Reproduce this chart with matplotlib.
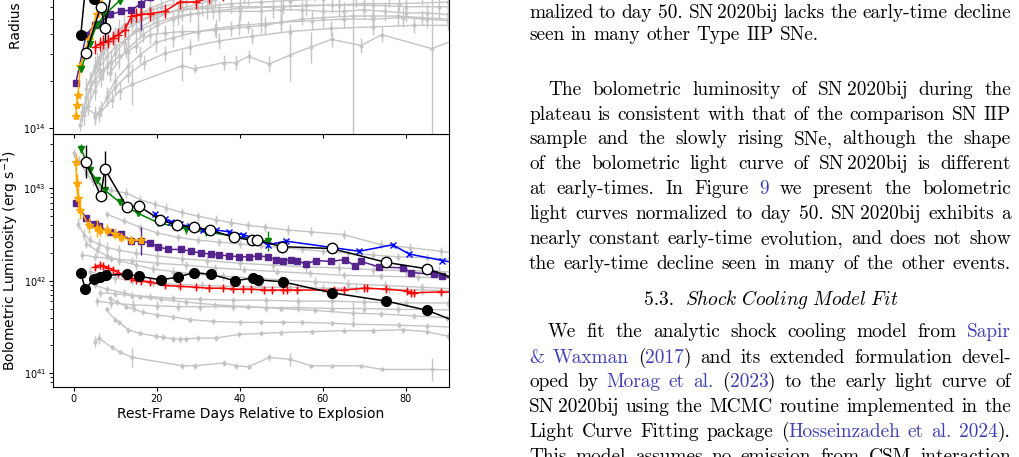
import numpy as np
import matplotlib
matplotlib.use('Agg')
import matplotlib.pyplot as plt

# ---------------- data: log10 L (erg/s) and log10 R (cm) ----------------
# SN 2020bij (black filled circles)
bij_days = [1.7, 2.8, 4.8, 6.3, 7.7, 12.9, 15.7, 21.0, 25.0, 29.0, 33.0, 38.9, 43.1, 44.4, 50.3, 62.2, 75.3, 85.2, 96.0]
bij_lum = [42.08, 41.91, 42.02, 42.04, 42.06, 42.07, 42.05, 42.01, 42.04, 42.09, 42.07, 42.00, 42.03, 42.01, 41.99, 41.87, 41.78, 41.68, 41.49]
bij_rad = [14.60, 14.90, 14.83, 15.00, 15.05, 15.10, 15.12, 15.15, 15.15, 15.13, 15.15, 15.20, 15.18, 15.20, 15.22, 15.25, 15.27, 15.28, 15.30]

# open circles
oc_days = [2.9, 6.5, 7.5, 12.8, 15.7, 20.8, 24.9, 28.9, 32.9, 38.7, 42.9, 44.2, 50.2, 62.1, 75.2, 85.1, 96.0]
oc_lum = [43.29, 42.92, 43.21, 42.80, 42.81, 42.66, 42.60, 42.58, 42.55, 42.47, 42.44, 42.44, 42.37, 42.35, 42.20, 42.13, 41.96]
oc_lum_err = [0.18, 0.04, 0.20, 0.03, 0.03, 0.02, 0.02, 0.02, 0.02, 0.02, 0.02, 0.02, 0.02, 0.02, 0.02, 0.02, 0.02]
oc_rad = [14.48, 14.78, 14.645, 15.40, 15.40, 15.42, 15.42, 15.43, 15.44, 15.45, 15.46, 15.46, 15.47, 15.48, 15.50, 15.50, 15.52]
oc_rad_err = [0.03, 0.03, 0.09, 0.05, 0.05, 0.05, 0.05, 0.05, 0.05, 0.05, 0.05, 0.05, 0.05, 0.05, 0.05, 0.05, 0.05]

# green triangles
gr_days = [1.8, 3.8, 5.5, 7.5, 11.1, 15.5, 20.3, 27.1, 31.9, 46.7]
gr_lum = [43.43, 43.20, 43.09, 42.98, 42.85, 42.73, 42.63, 42.56, 42.53, 42.43]
gr_lum_err = [0.05, 0.03, 0.03, 0.03, 0.03, 0.03, 0.03, 0.05, 0.04, 0.11]
gr_rad = [14.38, 14.54, 14.66, 14.73, 14.82, 14.90, 14.95, 15.00, 15.02, 15.05]

# blue crosses
bl_days = [19.5, 21.9, 23.5, 25.5, 27.9, 31.1, 34.3, 37.5, 40.7, 43.9, 46.7, 51.1, 68.8, 76.8, 80.8, 88.8, 95.0]
bl_lum = [42.72, 42.67, 42.64, 42.61, 42.59, 42.55, 42.55, 42.53, 42.50, 42.46, 42.39, 42.43, 42.32, 42.39, 42.29, 42.22, 42.17]
bl_rad = [15.05, 15.06, 15.07, 15.08, 15.08, 15.09, 15.10, 15.10, 15.11, 15.12, 15.13, 15.13, 15.15, 15.15, 15.16, 15.17, 15.18]

# purple squares
pu_days = [0.5, 3.0, 5.0, 6.0, 8.7, 11.5, 13.9, 16.3, 18.3, 20.3, 22.7, 25.9, 28.3, 30.7, 33.1, 35.1, 37.5, 39.9,
           42.3, 44.3, 46.7, 48.7, 50.3, 52.3, 53.9, 55.9, 58.3, 61.9, 65.3, 67.8, 69.2, 73.6, 79.4, 81.3, 86.8, 88.8, 92.0]
pu_lum = [42.84, 42.68, 42.61, 42.59, 42.53, 42.51, 42.43, 42.43, 42.41, 42.37, 42.34, 42.34, 42.32, 42.30, 42.29, 42.28, 42.27, 42.26,
          42.26, 42.27, 42.26, 42.23, 42.22, 42.23, 42.22, 42.18, 42.22, 42.21, 42.23, 42.16, 42.21, 42.15, 42.14, 42.09, 42.07, 42.05, 42.02]
pu_lum_err = [0.02, 0.02, 0.02, 0.02, 0.02, 0.02, 0.02, 0.15, 0.02, 0.02, 0.02, 0.02, 0.02, 0.02, 0.02, 0.02, 0.02, 0.02,
              0.02, 0.02, 0.02, 0.02, 0.02, 0.02, 0.02, 0.02, 0.02, 0.02, 0.02, 0.02, 0.02, 0.02, 0.02, 0.02, 0.02, 0.02, 0.02]
pu_rad = [14.29, 14.60, 14.66, 14.67, 14.73, 14.75, 14.76, 14.80, 14.84, 14.87, 14.90, 14.92, 14.94, 14.95, 14.96, 14.97, 14.98, 14.99,
          15.00, 15.00, 15.01, 15.02, 15.02, 15.03, 15.03, 15.04, 15.04, 15.05, 15.05, 15.06, 15.06, 15.07, 15.07, 15.08, 15.08, 15.09, 15.09]
pu_rad_err = [0.02, 0.02, 0.02, 0.02, 0.02, 0.02, 0.02, 0.17, 0.02, 0.02, 0.02, 0.02, 0.02, 0.02, 0.02, 0.02, 0.02, 0.02,
              0.02, 0.02, 0.02, 0.02, 0.02, 0.02, 0.02, 0.02, 0.02, 0.02, 0.02, 0.02, 0.02, 0.02, 0.02, 0.02, 0.02, 0.02, 0.02]

# orange stars
or_days = [0.5, 0.7, 1.0, 1.6, 3.6, 5.5, 6.3, 7.9, 9.9, 11.5, 13.9, 16.3]
or_lum = [43.29, 43.06, 42.90, 42.77, 42.60, 42.57, 42.55, 42.55, 42.51, 42.47, 42.44, 42.44]
or_lum_err = [0.08, 0.10, 0.12, 0.10, 0.08, 0.10, 0.06, 0.07, 0.06, 0.05, 0.05, 0.04]
or_rad = [14.075, 14.15, 14.21, 14.40, 14.57, 14.73, 14.80, 14.86, 14.90, 14.93, 14.95, 14.97]

# red pluses
rd_days = [5.0, 6.3, 7.0, 8.3, 9.5, 10.7, 12.3, 13.9, 15.1, 16.3, 18.3, 21.9, 25.5, 29.5, 32.7, 35.9, 38.3,
           40.7, 42.7, 45.9, 47.8, 50.3, 51.4, 53.8, 62.7, 65.1, 69.9, 70.6, 75.2, 80.3, 81.2, 81.9, 88.4, 94.0]
rd_lum = [42.15, 42.17, 42.16, 42.14, 42.12, 42.09, 42.05, 42.03, 42.01, 42.00, 41.99, 41.95, 41.94, 41.93, 41.92, 41.92, 41.91,
          41.91, 41.91, 41.90, 41.90, 41.90, 41.90, 41.90, 41.90, 41.90, 41.92, 41.92, 41.91, 41.89, 41.87, 41.87, 41.88, 41.87]
rd_rad = [14.52, 14.54, 14.55, 14.56, 14.58, 14.60, 14.63, 14.72, 14.725, 14.73, 14.735, 14.75, 14.81, 14.81, 14.84, 14.86, 14.88,
          14.90, 14.91, 14.92, 14.93, 14.94, 14.94, 14.95, 14.97, 14.97, 14.98, 14.98, 14.99, 15.00, 15.00, 15.00, 15.01, 15.02]

# grey comparison sample, luminosity
grey_lum = [
    ([0.0, 1.2, 3.0, 4.6, 6.3, 9.0, 12.7, 16.0, 19.5, 22.3, 26.0, 30.0, 34.3, 38.0, 42.0, 46.0, 51.5, 57.1, 65.1, 74.0, 81.0, 88.4, 95.0],
     [43.38, 43.30, 43.17, 43.08, 43.02, 42.98, 42.95, 42.88, 42.83, 42.79, 42.74, 42.70, 42.66, 42.63, 42.60, 42.58, 42.55, 42.53, 42.50, 42.39, 42.36, 42.32, 42.28], 0.05),
    ([8.0, 12.0, 16.0, 20.0, 25.0, 30.0, 35.0, 40.0, 45.0, 50.0, 55.0, 60.0, 66.0, 72.0, 78.0, 85.0, 92.0],
     [42.72, 42.65, 42.58, 42.52, 42.47, 42.44, 42.42, 42.40, 42.38, 42.36, 42.34, 42.32, 42.30, 42.28, 42.26, 42.25, 42.23], 0.04),
    ([1.0, 2.5, 4.0, 6.0, 8.0, 11.0, 15.0, 20.0, 26.0, 32.0, 40.0, 48.0, 56.0, 64.0, 72.0, 80.0, 88.0, 95.0],
     [42.62, 42.50, 42.44, 42.40, 42.36, 42.33, 42.30, 42.27, 42.24, 42.22, 42.19, 42.17, 42.15, 42.14, 42.12, 42.11, 42.10, 42.09], 0.06),
    ([2.0, 5.0, 9.0, 14.0, 20.0, 27.0, 34.0, 41.0, 49.0, 57.0, 65.0, 74.0, 83.0, 92.0],
     [42.28, 42.26, 42.24, 42.22, 42.19, 42.17, 42.14, 42.12, 42.10, 42.08, 42.06, 42.05, 42.04, 42.03], 0.04),
    ([3.0, 5.5, 8.0, 11.0, 15.0, 19.0, 24.0, 30.0, 36.0, 43.0, 50.0, 58.0, 66.0, 75.0, 84.0, 93.0],
     [42.40, 42.33, 42.27, 42.22, 42.17, 42.13, 42.10, 42.07, 42.05, 42.03, 42.01, 41.99, 41.97, 41.95, 41.93, 41.91], 0.05),
    ([4.0, 7.0, 10.0, 14.0, 19.0, 25.0, 31.0, 38.0, 45.0, 52.0, 60.0, 68.0, 76.0, 84.0, 93.0],
     [42.10, 42.06, 42.03, 42.00, 41.98, 41.96, 41.95, 41.94, 41.93, 41.93, 41.92, 41.92, 41.91, 41.90, 41.89], 0.05),
    ([6.3, 10.0, 14.0, 18.3, 24.0, 30.3, 38.3, 46.3, 54.0, 62.3, 70.0, 80.0, 90.2, 95.0],
     [41.87, 41.86, 41.84, 41.83, 41.81, 41.80, 41.79, 41.79, 41.78, 41.78, 41.77, 41.76, 41.76, 41.75], 0.04),
    ([5.5, 9.0, 14.3, 20.0, 25.0, 30.3, 38.3, 46.3, 54.0, 62.3, 70.0, 78.0, 85.0, 95.0],
     [41.78, 41.76, 41.74, 41.73, 41.72, 41.72, 41.72, 41.71, 41.71, 41.70, 41.70, 41.69, 41.69, 41.68], 0.05),
    ([5.0, 8.0, 12.0, 16.0, 21.0, 27.0, 34.0, 42.0, 50.0, 58.0, 67.2, 74.0, 82.0, 90.0, 95.0],
     [41.95, 41.91, 41.87, 41.83, 41.80, 41.77, 41.74, 41.72, 41.70, 41.68, 41.65, 41.64, 41.62, 41.60, 41.59],
     [0.03, 0.03, 0.04, 0.03, 0.03, 0.03, 0.03, 0.03, 0.03, 0.03, 0.13, 0.03, 0.03, 0.03, 0.03]),
    ([8.7, 10.5, 12.7, 14.5, 16.7, 20.0, 23.9, 28.0, 33.5, 40.0, 45.0, 50.3, 55.0, 62.3, 67.2, 78.4, 85.0, 95.0],
     [41.81, 41.77, 41.72, 41.69, 41.66, 41.63, 41.61, 41.58, 41.56, 41.55, 41.55, 41.55, 41.55, 41.54, 41.53, 41.52, 41.51, 41.49], 0.03),
    ([7.9, 9.9, 11.0, 13.1, 16.0, 19.9, 21.5, 23.9, 25.5, 27.0, 30.0, 34.3, 39.9, 45.0, 50.0, 57.5, 65.0, 72.0, 79.2, 85.0, 90.2, 95.0],
     [41.69, 41.58, 41.55, 41.47, 41.43, 41.40, 41.39, 41.37, 41.37, 41.37, 41.38, 41.38, 41.42, 41.43, 41.44, 41.45, 41.46, 41.46, 41.47, 41.45, 41.40, 41.38], 0.03),
    ([5.0, 6.1, 9.1, 11.1, 14.1, 26.1, 29.1, 36.1, 39.1, 42.1, 47.1, 52.2, 57.1, 62.1, 69.2, 74.2, 86.2, 95.0],
     [41.34, 41.38, 41.28, 41.23, 41.17, 41.08, 41.08, 41.11, 41.08, 41.07, 41.17, 41.15, 41.08, 41.08, 41.08, 41.04, 41.04, 41.03],
     [0.06, 0.06, 0.03, 0.02, 0.10, 0.03, 0.03, 0.03, 0.03, 0.03, 0.04, 0.07, 0.02, 0.02, 0.02, 0.02, 0.12, 0.02]),
]

# grey comparison sample, radius
grey_rad = [
    ([2.9, 5.0, 6.1, 9.1, 11.1, 14.1, 26.1, 29.1, 36.1, 39.1, 42.1, 47.1, 52.2, 57.1, 62.1, 69.2, 74.2, 86.2, 95.0],
     [14.13, 14.09, 14.09, 14.18, 14.24, 14.28, 14.40, 14.38, 14.42, 14.42, 14.46, 14.41, 14.47, 14.52, 14.57, 14.53, 14.60, 14.51, 14.60],
     [0.03, 0.05, 0.05, 0.05, 0.06, 0.13, 0.10, 0.03, 0.05, 0.05, 0.04, 0.05, 0.17, 0.10, 0.05, 0.05, 0.05, 0.90, 0.05]),
    ([1.5, 3.0, 5.0, 7.0, 9.0, 11.0, 13.0, 15.0, 18.3, 22.0, 26.0, 30.0, 34.0, 38.0, 42.0, 46.0, 50.0, 55.0, 60.0, 67.2, 72.0, 78.0, 84.0, 90.2, 95.0],
     [14.02, 14.20, 14.30, 14.37, 14.42, 14.46, 14.49, 14.53, 14.60, 14.61, 14.62, 14.62, 14.63, 14.64, 14.65, 14.66, 14.68, 14.70, 14.71, 14.72, 14.72, 14.72, 14.71, 14.70, 14.70],
     [0.04, 0.05, 0.06, 0.06, 0.08, 0.08, 0.06, 0.05, 0.06, 0.05, 0.05, 0.04, 0.04, 0.05, 0.04, 0.06, 0.05, 0.04, 0.06, 0.90, 0.05, 0.06, 0.05, 0.05, 0.05]),
    ([2.0, 4.0, 6.0, 8.0, 10.0, 13.0, 16.0, 20.0, 25.0, 30.0, 35.0, 40.0, 45.0, 50.0, 55.0, 60.0, 65.0, 70.0, 75.0, 80.0, 85.0, 90.2, 95.0],
     [14.10, 14.25, 14.38, 14.46, 14.52, 14.58, 14.63, 14.68, 14.72, 14.74, 14.75, 14.75, 14.75, 14.76, 14.76, 14.75, 14.75, 14.76, 14.75, 14.74, 14.74, 14.73, 14.73], 0.06),
    ([3.0, 5.5, 8.0, 11.0, 15.0, 20.0, 26.0, 32.0, 40.0, 48.0, 56.0, 64.0, 72.0, 80.0, 88.0, 95.0],
     [14.25, 14.42, 14.55, 14.63, 14.69, 14.73, 14.76, 14.77, 14.78, 14.78, 14.79, 14.79, 14.79, 14.78, 14.78, 14.78], 0.07),
    ([4.0, 7.0, 10.0, 14.0, 19.0, 25.0, 31.0, 38.0, 45.0, 52.0, 60.0, 68.0, 76.0, 84.0, 93.0],
     [14.30, 14.48, 14.58, 14.66, 14.72, 14.76, 14.78, 14.80, 14.81, 14.82, 14.83, 14.84, 14.84, 14.85, 14.85], 0.06),
    ([5.0, 8.0, 12.0, 16.0, 21.0, 27.0, 34.0, 42.0, 50.0, 58.0, 66.0, 74.0, 82.0, 90.0],
     [14.40, 14.55, 14.66, 14.73, 14.78, 14.81, 14.83, 14.85, 14.87, 14.88, 14.89, 14.90, 14.91, 14.92], 0.06),
    ([6.3, 10.0, 14.0, 18.3, 24.0, 30.3, 38.3, 46.3, 54.0, 62.3, 70.0, 80.0, 90.2],
     [14.45, 14.60, 14.70, 14.77, 14.83, 14.87, 14.90, 14.92, 14.94, 14.95, 14.96, 14.97, 14.98], 0.05),
    ([7.9, 9.9, 13.1, 16.0, 19.9, 23.9, 30.0, 34.3, 39.9, 45.0, 50.0, 57.5, 65.0, 72.0, 79.2, 85.0, 90.2],
     [14.20, 14.30, 14.40, 14.47, 14.55, 14.58, 14.62, 14.64, 14.66, 14.67, 14.68, 14.69, 14.70, 14.70, 14.71, 14.70, 14.69], 0.06),
    ([8.7, 12.7, 16.7, 20.0, 23.9, 28.0, 33.5, 40.0, 50.3, 62.3, 70.0, 78.4, 90.2],
     [14.35, 14.50, 14.60, 14.66, 14.70, 14.73, 14.75, 14.77, 14.78, 14.79, 14.80, 14.80, 14.81], 0.05),
    ([2.5, 3.5, 5.0, 6.5, 8.0, 10.0, 12.0, 15.0, 20.0, 26.0, 33.0, 41.0, 50.0, 60.0, 70.0, 80.0, 90.0],
     [14.08, 14.14, 14.24, 14.32, 14.40, 14.48, 14.55, 14.63, 14.71, 14.77, 14.82, 14.86, 14.89, 14.91, 14.93, 14.94, 14.95], 0.06),
    ([5.0, 6.5, 8.0, 10.0, 13.0, 17.0, 22.0, 28.0, 35.0, 43.0, 52.0, 62.0, 72.0, 82.0, 92.0],
     [14.07, 14.12, 14.19, 14.26, 14.34, 14.42, 14.48, 14.52, 14.56, 14.59, 14.62, 14.64, 14.65, 14.66, 14.66], 0.05),
]

W, H = 1019, 457
GREY = '#c4c4c4'
LINK = '#3f3fb0'


def draw(ax, days, logv, err, **kw):
    """errorbar in log space -> linear values"""
    logv = np.asarray(logv, dtype=float)
    err = np.broadcast_to(np.asarray(err, dtype=float), logv.shape)
    v = 10 ** logv
    lo = v - 10 ** (logv - err)
    hi = 10 ** (logv + err) - v
    ax.errorbar(days, v, yerr=[lo, hi], **kw)


fig = plt.figure(figsize=(W / 100, H / 100), dpi=100)
ax_l = fig.add_axes([53 / W, (H - 387) / H, 396 / W, 253 / H])
ax_r = fig.add_axes([53 / W, (H - 134) / H, 396 / W, 253 / H], sharex=ax_l)

gkw = dict(fmt='.-', color=GREY, ms=4, lw=1, elinewidth=1, zorder=1)
for d, v, e in grey_lum:
    draw(ax_l, d, v, e, **gkw)
for d, v, e in grey_rad:
    draw(ax_r, d, v, e, **gkw)

styles = dict(
    orange=dict(fmt='*-', color='orange', ms=6, lw=1.1, elinewidth=1, zorder=5),
    purple=dict(fmt='s-', color='#55238c', ms=4.5, lw=1.1, elinewidth=1, zorder=4),
    red=dict(fmt='+-', color='red', ms=6, mew=1, lw=1.1, elinewidth=1, zorder=4),
    green=dict(fmt='v-', color='green', ms=4.5, lw=1.1, elinewidth=1, zorder=5),
    blue=dict(fmt='x-', color='blue', ms=4.5, lw=1.1, elinewidth=1, zorder=5),
    white=dict(fmt='o-', color='k', mfc='white', mec='k', ms=7.5, lw=1.1, elinewidth=1, zorder=7),
    black=dict(fmt='o-', color='k', mfc='k', mec='k', ms=7, lw=1.1, elinewidth=1, zorder=8),
)

draw(ax_l, pu_days, pu_lum, pu_lum_err, **styles['purple'])
draw(ax_l, or_days, or_lum, or_lum_err, **styles['orange'])
draw(ax_l, rd_days, rd_lum, 0.03, **styles['red'])
draw(ax_l, gr_days, gr_lum, gr_lum_err, **styles['green'])
draw(ax_l, bl_days, bl_lum, 0.02, **styles['blue'])
draw(ax_l, oc_days, oc_lum, oc_lum_err, **styles['white'])
draw(ax_l, bij_days, bij_lum, 0.02, **styles['black'])

draw(ax_r, pu_days, pu_rad, pu_rad_err, **styles['purple'])
draw(ax_r, or_days, or_rad, 0.02, **styles['orange'])
draw(ax_r, rd_days, rd_rad, 0.045, **styles['red'])
draw(ax_r, gr_days, gr_rad, 0.02, **styles['green'])
draw(ax_r, bl_days, bl_rad, 0.02, **styles['blue'])
draw(ax_r, oc_days, oc_rad, oc_rad_err, **styles['white'])
draw(ax_r, bij_days, bij_rad, 0.02, **styles['black'])

for ax in (ax_l, ax_r):
    ax.set_yscale('log')
    ax.tick_params(labelsize=7, length=3, pad=2)
    ax.tick_params(which='minor', length=2)
ax_l.set_xlim(-5, 90.4)
ax_l.set_ylim(10 ** 40.85, 10 ** 43.59)
ax_r.set_ylim(10 ** 13.96, 10 ** 15.59)
ax_l.set_xticks([0, 20, 40, 60, 80])
ax_r.tick_params(labelbottom=False)
ax_l.set_xlabel('Rest-Frame Days Relative to Explosion', fontsize=10, labelpad=2)
ax_l.set_ylabel('Bolometric Luminosity (erg s$^{-1}$)', fontsize=10)
ax_r.set_ylabel('Radius (cm)', fontsize=10)
ax_l.yaxis.set_label_coords(-0.08, 0.5)
ax_r.yaxis.set_label_coords(-0.078, 0.5)

# ---------------- the paper text on the right ----------------
FS = 13.9
X0, X1 = 529, 1011
INDENT = 19
SPACE = 6.4
THIN = 3.3
tkw = dict(family='cmr10', fontsize=FS, va='baseline', ha='left')

# (baseline px, text, indent, justify)
lines = [
    (-6.6, 'panel of Figure 8 shows the photospheric radius evolution nor-', False, True),
    (18.3, 'malized to day 50.  SN~2020bij lacks the early-time decline', False, True),
    (40.0, 'seen in many other Type IIP SNe.', False, False),
    (95.0, 'The bolometric luminosity of SN~2020bij during the', True, True),
    (120.0, 'plateau is consistent with that of the comparison SN IIP', False, True),
    (144.3, 'sample and the slowly rising SNe, although the shape', False, True),
    (169.3, 'of the bolometric light curve of SN~2020bij is different', False, True),
    (194.3, 'at early-times.  In Figure [9] we present the bolometric', False, True),
    (219.0, 'light curves normalized to day 50.  SN~2020bij exhibits a', False, True),
    (244.0, 'nearly constant early-time evolution, and does not show', False, True),
    (269.0, 'the early-time decline seen in many of the other events.', False, True),
    (337.3, 'We fit the analytic shock cooling model from [Sapir]', True, True),
    (362.7, '[&] [Waxman] ([2017]) and its extended formulation devel-', False, True),
    (387.3, 'oped by [Morag] [et] [al.] ([2023]) to the early light curve of', False, True),
    (412.3, 'SN~2020bij using the MCMC routine implemented in the', False, True),
    (437.3, 'Light Curve Fitting package ([Hosseinzadeh] [et] [al.] [2024]).', False, True),
    (462.0, 'This model assumes no emission from CSM interaction', False, True),
]


def pieces(word):
    out, col, buf = [], 'k', ''
    for ch in word:
        if ch in '[]~':
            if buf:
                out.append((buf, col))
                buf = ''
            if ch == '[':
                col = LINK
            elif ch == ']':
                col = 'k'
            else:
                out.append((None, THIN))
        else:
            buf += ch
    if buf:
        out.append((buf, col))
    return out


r = fig.canvas.get_renderer()

for base, txt, indent, justify in lines:
    words = []
    for wd in txt.split():
        items = []
        for s, c in pieces(wd):
            if s is None:
                items.append((None, c))
            else:
                t = fig.text(0, 0, s, color=c, **tkw)
                items.append((t, t.get_window_extent(r).width))
        words.append(items)
    widths = [sum(w for _, w in items) for items in words]
    x = X0 + (INDENT if indent else 0)
    gap = (X1 - x - sum(widths)) / (len(words) - 1) if justify else SPACE
    for items in words:
        for t, w in items:
            if t is not None:
                t.set_position((x / W, 1 - base / H))
            x += w
        x += gap

# section heading
h1 = fig.text(0, 0, '5.3.', **tkw)
h2 = fig.text(0, 0, r'$\mathit{Shock\ Cooling\ Model\ Fit}$', fontsize=FS, va='baseline',
              ha='left', math_fontfamily='cm')
w1 = h1.get_window_extent(r).width
w2 = h2.get_window_extent(r).width
hx = 771 - (w1 + 11 + w2) / 2
h1.set_position((hx / W, 1 - 305 / H))
h2.set_position(((hx + w1 + 11) / W, 1 - 305 / H))

fig.savefig('out.png', dpi=100)
